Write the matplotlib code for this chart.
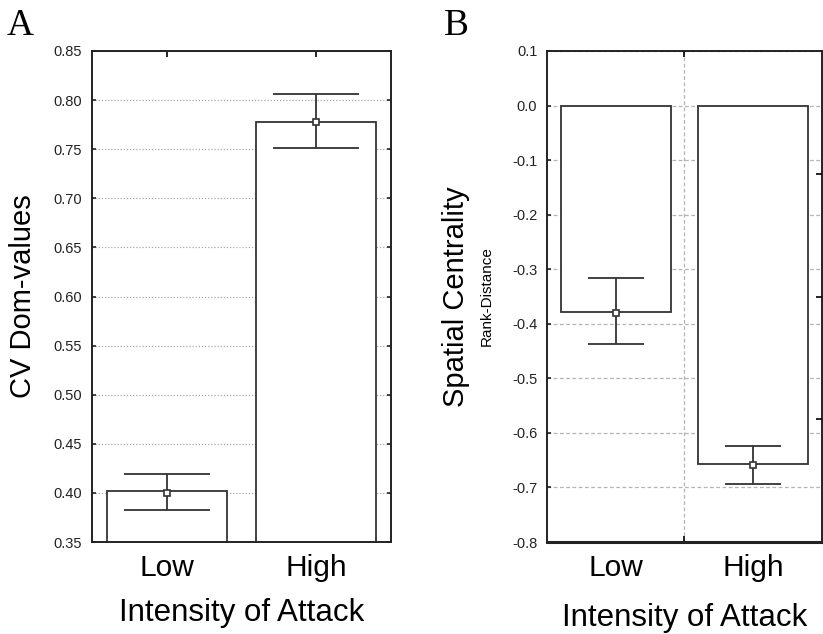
import matplotlib
matplotlib.use("Agg")
import matplotlib.pyplot as plt

plt.rcParams["font.family"] = ["Liberation Sans", "DejaVu Sans"]

# Categories on the x axis of both panels
categories = ["Low", "High"]

# Panel A: coefficient of variation of dominance values
cv_bar = [0.402, 0.778]
cv_mean = [0.4003, 0.7776]
cv_upper = [0.419, 0.806]
cv_lower = [0.383, 0.751]
cv_yticks = [0.35, 0.40, 0.45, 0.50, 0.55, 0.60, 0.65, 0.70, 0.75, 0.80, 0.85]

# Panel B: spatial centrality (rank-distance correlation)
sc_bar = [-0.378, -0.657]
sc_mean = [-0.3795, -0.6584]
sc_upper = [-0.316, -0.6235]
sc_lower = [-0.4363, -0.694]
sc_yticks = [0.1, 0.0, -0.1, -0.2, -0.3, -0.4, -0.5, -0.6, -0.7, -0.8]
sc_right_ticks = [-0.125, -0.35, -0.575]

EDGE = "#333333"
W, H = 823, 634
fig = plt.figure(figsize=(W / 100, H / 100), dpi=100)

axA = fig.add_axes([92 / W, 1 - 542 / H, 299 / W, 491 / H])
axB = fig.add_axes([547 / W, 1 - 542 / H, 274.5 / W, 491 / H])

x = list(range(len(categories)))


def draw_panel(ax, bars, mean, upper, lower, capsize):
    ax.set_axisbelow(True)
    ax.bar(x, bars, width=0.8, color="white", edgecolor=EDGE, linewidth=1.3, zorder=2)
    yerr = [[m - lo for m, lo in zip(mean, lower)], [u - m for m, u in zip(mean, upper)]]
    ax.errorbar(x, mean, yerr=yerr, fmt="none", ecolor=EDGE, elinewidth=1.3,
                capsize=capsize, capthick=1.3, zorder=3)
    ax.plot(x, mean, linestyle="none", marker="s", markersize=5,
            markerfacecolor="white", markeredgecolor=EDGE, markeredgewidth=1.2, zorder=4)
    ax.set_xlim(-0.5, 1.5)
    for s in ax.spines.values():
        s.set_linewidth(1.4)
        s.set_color("#222222")


# ---- Panel A ----
draw_panel(axA, cv_bar, cv_mean, cv_upper, cv_lower, capsize=31)
axA.set_ylim(0.35, 0.85)
axA.set_yticks(cv_yticks)
axA.set_yticklabels([f"{v:.2f}" for v in cv_yticks])
axA.set_xticks(x)
axA.set_xticklabels(categories)
axA.tick_params(axis="y", which="major", direction="in", length=3, width=1.2,
                left=True, right=True, labelsize=10.5, pad=7, colors="#222222")
axA.tick_params(axis="x", which="major", direction="in", length=4, width=1.2,
                top=True, bottom=True, labelsize=21.5, pad=9)
axA.grid(axis="y", linestyle=(0, (1, 1.5)), color="#a8a8a8", linewidth=0.9)
axA.set_ylabel("CV Dom-values", fontsize=21, labelpad=12)
axA.set_xlabel("Intensity of Attack", fontsize=22.5, labelpad=11)

# ---- Panel B ----
draw_panel(axB, sc_bar, sc_mean, sc_upper, sc_lower, capsize=20.5)
axB.set_ylim(-0.8, 0.1)
axB.set_yticks(sc_yticks)
axB.set_yticklabels([f"{v:.1f}" for v in sc_yticks])
axB.set_xticks(x)
axB.set_xticklabels(categories)
axB.set_xticks([0.5], minor=True)
axB.tick_params(axis="x", which="major", length=0, labelsize=21.5, pad=9)
axB.tick_params(axis="x", which="minor", direction="in", length=4, width=1.2,
                top=True, bottom=True)
axB.tick_params(axis="y", which="major", direction="in", length=3, width=1.2,
                left=True, right=False, labelsize=10.5, pad=7, colors="#222222")
axB.grid(axis="y", which="major", linestyle=(0, (3, 2)), color="#b4b4b4", linewidth=0.9)
axB.grid(axis="x", which="minor", linestyle=(0, (3, 2)), color="#b4b4b4", linewidth=0.9)
axB.spines["bottom"].set_linewidth(2.2)
axB.set_ylabel("Spatial Centrality", fontsize=21, labelpad=30)
axB.set_xlabel("Intensity of Attack", fontsize=22.5, labelpad=15)
axB.text(-0.218, 0.5, "Rank-Distance", transform=axB.transAxes, rotation=90,
         ha="center", va="center", fontsize=11)

twin = axB.twinx()
twin.set_ylim(axB.get_ylim())
twin.set_yticks(sc_right_ticks)
twin.set_yticklabels([])
twin.tick_params(axis="y", direction="in", length=4, width=1.2, right=True)
for s in twin.spines.values():
    s.set_visible(False)

# Panel letters
fig.text(7 / W, 1 - 35 / H, "A", fontsize=27, family=["Liberation Serif"], va="baseline")
fig.text(444 / W, 1 - 35 / H, "B", fontsize=27, family=["Liberation Serif"], va="baseline")

fig.savefig("out.png", dpi=100, facecolor="white")
